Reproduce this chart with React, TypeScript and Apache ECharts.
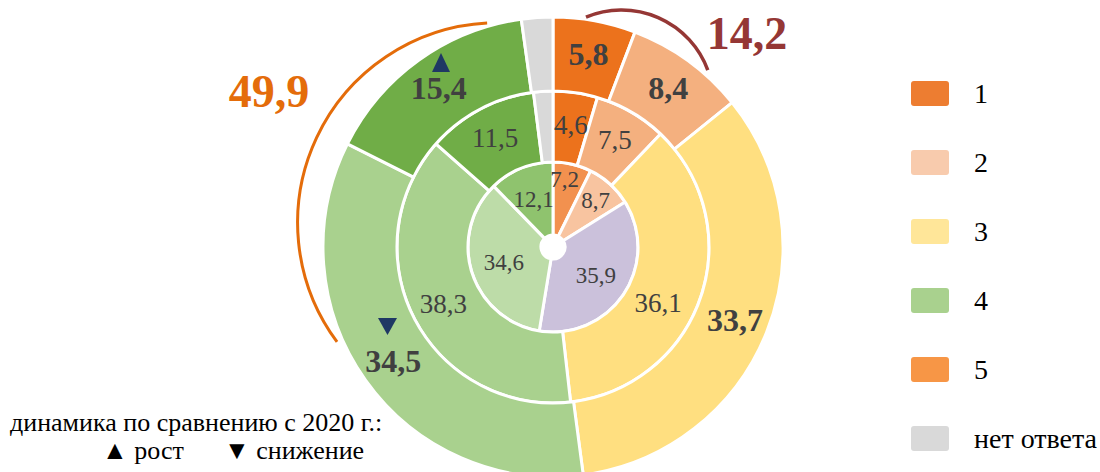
import React, { useEffect, useRef } from "react";
import * as echarts from "echarts";

const categories = ["1", "2", "3", "4", "5", "нет ответа"];
const outerValues = [5.8, 8.4, 33.7, 34.5, 15.4, 2.2];
const middleValues = [4.6, 7.5, 36.1, 38.3, 11.5, 2.0];
const innerValues = [7.2, 8.7, 35.9, 34.6, 12.1];
const ringColors = ["#EC721C", "#F4B07F", "#FFDF80", "#A9D18E", "#70AD47", "#D9D9D9"];
const innerColors = ["#F2914F", "#F8C4A0", "#CBC1DB", "#BDDCA8", "#8FC36E"];
const legendColors = ["#ED7D31", "#F8CBAD", "#FFE699", "#A9D18E", "#F79646", "#D9D9D9"];
const noteTitle = "динамика по сравнению с 2020 г.:";
const noteUp = "▲ рост";
const noteDown = "▼ снижение";

const FONT = "'Liberation Serif', 'Times New Roman', serif";
const fmt = (v: number) => (Math.round(v * 10) / 10).toFixed(1).replace(".", ",");
const DEG = Math.PI / 180;

export default function App() {
  const ref = useRef<HTMLDivElement>(null);
  useEffect(() => {
    document.body.style.margin = "0";
    if (!ref.current) return;
    const chart = echarts.init(ref.current, undefined, { renderer: "svg" });
    const center = [553, 247];
    const labelColor = "#404040";

    // label nudges (rich-text templates) for a few hand-placed labels
    const innerTpl: Record<number, string> = { 0: "{v}\n{up17| }", 1: "{w16| }{v}\n{up8| }" };
    const middleTpl: Record<number, string> = { 2: "{up17| }\n{v}{w24| }" };
    const rich = {
      up17: { fontSize: 1, lineHeight: 34 },
      up8: { fontSize: 1, lineHeight: 16 },
      w16: { fontSize: 1, width: 16 },
      w24: { fontSize: 1, width: 24 },
    };

    const mkData = (vals: number[], colors: string[], tpls: Record<number, string>) =>
      vals.map((v, i) => ({
        value: v,
        name: categories[i],
        itemStyle: { color: colors[i] },
        label: {
          show: categories[i] !== "нет ответа",
          formatter: (p: any) => (tpls[i] || "{v}").replace("{v}", fmt(p.value)),
        },
      }));

    const baseSeries = {
      type: "pie",
      center,
      startAngle: 90,
      clockwise: true,
      avoidLabelOverlap: false,
      silent: true,
      labelLayout: { hideOverlap: false },
      itemStyle: { borderColor: "#ffffff", borderWidth: 3 },
      labelLine: { show: false },
      emphasis: { disabled: true },
    };

    const total12 = outerValues[0] + outerValues[1];
    const total45 = outerValues[3] + outerValues[4];

    const legendGraphics: any[] = [];
    categories.forEach((c, i) => {
      const cy = 93.5 + i * 69;
      legendGraphics.push({
        type: "rect",
        shape: { x: 911, y: cy - 12.5, width: 38, height: 25, r: 3 },
        style: { fill: legendColors[i] },
      });
      legendGraphics.push({
        type: "text",
        x: 974,
        y: cy,
        style: {
          text: c,
          fontFamily: FONT,
          fontSize: 28,
          fill: "#000000",
          textAlign: "left",
          textVerticalAlign: "middle",
        },
      });
    });

    const noteText = (text: string, x: number, y: number) => ({
      type: "text",
      x,
      y,
      style: {
        text,
        fontFamily: FONT,
        fontSize: 26,
        fill: "#000000",
        textAlign: "left",
        textVerticalAlign: "middle",
      },
    });

    chart.setOption({
      animation: false,
      backgroundColor: "#ffffff",
      series: [
        {
          ...baseSeries,
          radius: [12, 85],
          label: {
            show: true,
            position: "inside",
            fontFamily: FONT,
            fontSize: 23,
            color: labelColor,
            rich,
          },
          data: mkData(innerValues, innerColors, innerTpl),
        },
        {
          ...baseSeries,
          radius: [85, 156],
          label: {
            show: true,
            position: "inside",
            fontFamily: FONT,
            fontSize: 27,
            color: labelColor,
            rich,
          },
          data: mkData(middleValues, ringColors, middleTpl),
        },
        {
          ...baseSeries,
          radius: [156, 230],
          label: {
            show: true,
            position: "inside",
            fontFamily: FONT,
            fontSize: 32,
            fontWeight: "bold",
            color: labelColor,
            rich,
          },
          data: mkData(outerValues, ringColors, {}),
        },
      ],
      graphic: [
        {
          type: "arc",
          z: 100,
          shape: { cx: 621.5, cy: 102, r: 92, startAngle: -112.7 * DEG, endAngle: -20.3 * DEG, clockwise: true },
          style: { stroke: "#953735", lineWidth: 3.5, fill: null },
        },
        {
          type: "arc",
          z: 100,
          shape: { cx: 497.6, cy: 222.7, r: 200, startAngle: 143.4 * DEG, endAngle: 267 * DEG, clockwise: true },
          style: { stroke: "#E46C0A", lineWidth: 3, fill: null },
        },
        {
          type: "text",
          z: 100,
          x: 747,
          y: 33,
          style: {
            text: fmt(total12),
            fontFamily: FONT,
            fontSize: 46,
            fontWeight: "bold",
            fill: "#953735",
            textAlign: "center",
            textVerticalAlign: "middle",
          },
        },
        {
          type: "text",
          z: 100,
          x: 269,
          y: 91,
          style: {
            text: fmt(total45),
            fontFamily: FONT,
            fontSize: 46,
            fontWeight: "bold",
            fill: "#E46C0A",
            textAlign: "center",
            textVerticalAlign: "middle",
          },
        },
        {
          type: "polygon",
          z: 100,
          shape: { points: [[432, 72], [450, 72], [441, 53]] },
          style: { fill: "#1F3864" },
        },
        {
          type: "polygon",
          z: 100,
          shape: { points: [[378, 318], [397, 318], [387.5, 335]] },
          style: { fill: "#1F3864" },
        },
        noteText(noteTitle, 10, 422),
        noteText(noteUp, 102, 450),
        noteText(noteDown, 224, 450),
        ...legendGraphics,
      ],
    });
    return () => chart.dispose();
  }, []);
  return <div ref={ref} style={{ width: 1100, height: 472 }} />;
}
